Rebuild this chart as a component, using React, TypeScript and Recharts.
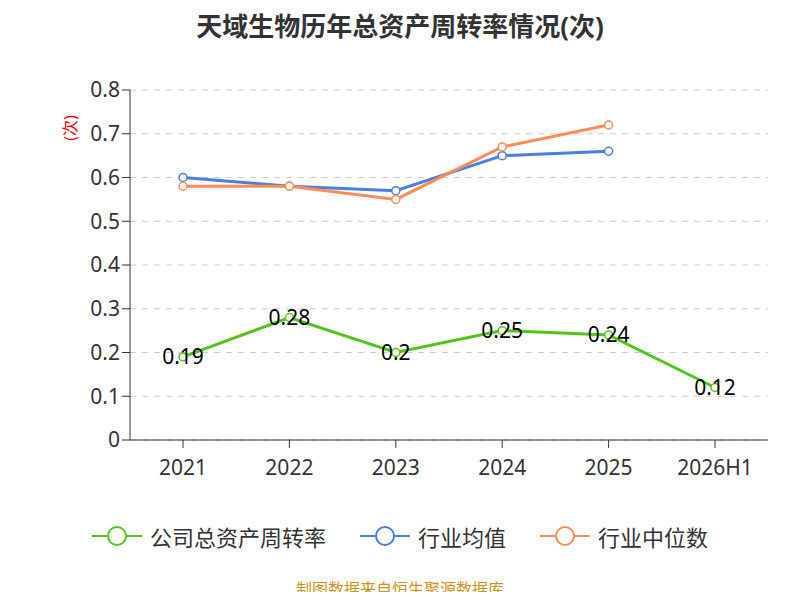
import React from 'react';
import { LineChart, Line, XAxis, YAxis, CartesianGrid, LabelList } from 'recharts';

const years = ['2021', '2022', '2023', '2024', '2025', '2026H1'];
const company = [0.19, 0.28, 0.2, 0.25, 0.24, 0.12];
const industryAvg = [0.6, 0.58, 0.57, 0.65, 0.66, null];
const industryMedian = [0.58, 0.58, 0.55, 0.67, 0.72, null];
const yTicks = [0, 0.1, 0.2, 0.3, 0.4, 0.5, 0.6, 0.7, 0.8];

const data = years.map((y, i) => ({
  year: y,
  company: company[i],
  avg: industryAvg[i],
  median: industryMedian[i],
}));

const GREEN = '#52c41a';
const BLUE = '#4a7fe0';
const ORANGE = '#ff8c55';
const FONT = '"Noto Sans", "Noto Sans CJK SC", sans-serif';

const legendItems = [
  { name: '公司总资产周转率', color: GREEN },
  { name: '行业均值', color: BLUE },
  { name: '行业中位数', color: ORANGE },
];

const App = () => (
  <div style={{ position: 'relative', width: 800, height: 600, fontFamily: FONT, margin: '-8px', overflow: 'hidden' }}>
    <div style={{ position: 'absolute', top: 6, width: 800, textAlign: 'center', fontSize: 26, fontWeight: 'bold', color: '#333' }}>
      天域生物历年总资产周转率情况(次)
    </div>
    <div style={{ position: 'absolute', left: 56, top: 116, transform: 'rotate(-90deg)', color: '#e00', fontSize: 16 }}>(次)</div>
    <LineChart width={800} height={600} data={data} margin={{ top: 90, right: 32, bottom: 130, left: 70 }}>
      <CartesianGrid vertical={false} stroke="#ccc" strokeDasharray="6 6" />
      <XAxis dataKey="year" stroke="#333" tick={{ fill: '#333', fontSize: 21 }} tickMargin={12} tickSize={8} padding={{ left: 53, right: 53 }} />
      <YAxis domain={[0, 0.8]} ticks={yTicks} width={60} stroke="#333" tick={{ fill: '#333', fontSize: 21 }} tickSize={8} />
      <Line dataKey="avg" stroke={BLUE} strokeWidth={3} dot={{ r: 4, fill: '#fff', strokeWidth: 1.5 }} isAnimationActive={false} />
      <Line dataKey="median" stroke={ORANGE} strokeWidth={3} dot={{ r: 4, fill: '#fff', strokeWidth: 1.5 }} isAnimationActive={false} />
      <Line dataKey="company" stroke={GREEN} strokeWidth={3} dot={{ r: 4, fill: '#fff', strokeWidth: 1.5 }} isAnimationActive={false}>
        <LabelList dataKey="company" position="center" fill="#000" fontSize={21} />
      </Line>
    </LineChart>
    <div style={{ position: 'absolute', top: 520, width: 800, display: 'flex', justifyContent: 'center', gap: 34, fontSize: 22, color: '#333' }}>
      {legendItems.map((it) => (
        <div key={it.name} style={{ display: 'flex', alignItems: 'center', gap: 8 }}>
          <svg width={50} height={24}>
            <line x1={0} y1={12} x2={50} y2={12} stroke={it.color} strokeWidth={2} />
            <circle cx={25} cy={12} r={9} fill="#fff" stroke={it.color} strokeWidth={2} />
          </svg>
          <span>{it.name}</span>
        </div>
      ))}
    </div>
    <div style={{ position: 'absolute', top: 576, width: 800, textAlign: 'center', fontSize: 16, color: '#c8961e' }}>
      制图数据来自恒生聚源数据库
    </div>
  </div>
);

export default App;
